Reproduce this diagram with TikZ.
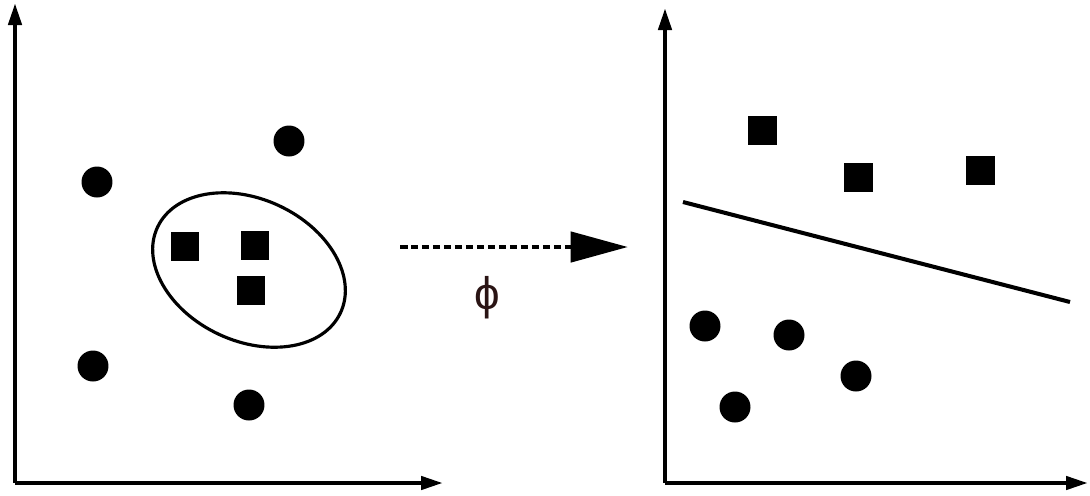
\documentclass[tikz,border=0pt]{standalone}
\usepackage{fontspec}
\newfontfamily\greekfont{Liberation Sans}
\usetikzlibrary{arrows.meta}
\definecolor{phidark}{HTML}{2A1414}

\begin{document}
\begin{tikzpicture}[
    x=0.02cm, y=-0.02cm,
    dot/.style={circle, fill=black, inner sep=0pt, minimum size=0.62cm},
    box/.style={rectangle, fill=black, inner sep=0pt, minimum size=0.58cm},
    axis/.style={line width=2.5pt, -{Triangle[length=0.44cm, width=0.26cm]}},
    map/.style={line width=2.8pt, dash pattern=on 0.15cm off 0.07cm,
                -{Triangle[length=1.15cm, width=0.6cm]}},
    label/.style={font=\greekfont\fontsize{26}{28}\selectfont, text=phidark}
]
\useasboundingbox (0,0) rectangle (1090,495);

% --- Left panel: axes ---
\coordinate (lo) at (15,483);
\coordinate (ly) at (15,3);
\coordinate (lx) at (443,483);
\draw[axis] (lo) -- (ly);
\draw[axis] (lo) -- (lx);

% --- Left panel: points ---
\node[dot] (lc1) at (97,182)  {};
\node[dot] (lc2) at (289,141) {};
\node[dot] (lc3) at (93,366)  {};
\node[dot] (lc4) at (249,405) {};
\node[box] (ls1) at (185,246) {};
\node[box] (ls2) at (255,245) {};
\node[box] (ls3) at (251,290) {};
\draw[line width=1.8pt, rotate around={-25:(249,270)}] (249,270) ellipse [x radius=101, y radius=71];

% --- Mapping arrow ---
\coordinate (ms) at (400,247);
\coordinate (me) at (628,247);
\draw[map] (ms) -- (me);
\node[label] (phi) at (487,298) {ϕ};

% --- Right panel: axes ---
\coordinate (ro) at (665,483);
\coordinate (ry) at (665,8);
\coordinate (rx) at (1088,483);
\draw[axis] (ro) -- (ry);
\draw[axis] (ro) -- (rx);

% --- Right panel: points ---
\node[box] (rs1) at (762,130) {};
\node[box] (rs2) at (858,177) {};
\node[box] (rs3) at (980,170) {};
\node[dot] (rc1) at (705,326) {};
\node[dot] (rc2) at (789,335) {};
\node[dot] (rc3) at (735,407) {};
\node[dot] (rc4) at (856,376) {};

% --- Separating line ---
\coordinate (sa) at (683,202);
\coordinate (sb) at (1070,302);
\draw[line width=2.3pt] (sa) -- (sb);
\end{tikzpicture}
\end{document}
